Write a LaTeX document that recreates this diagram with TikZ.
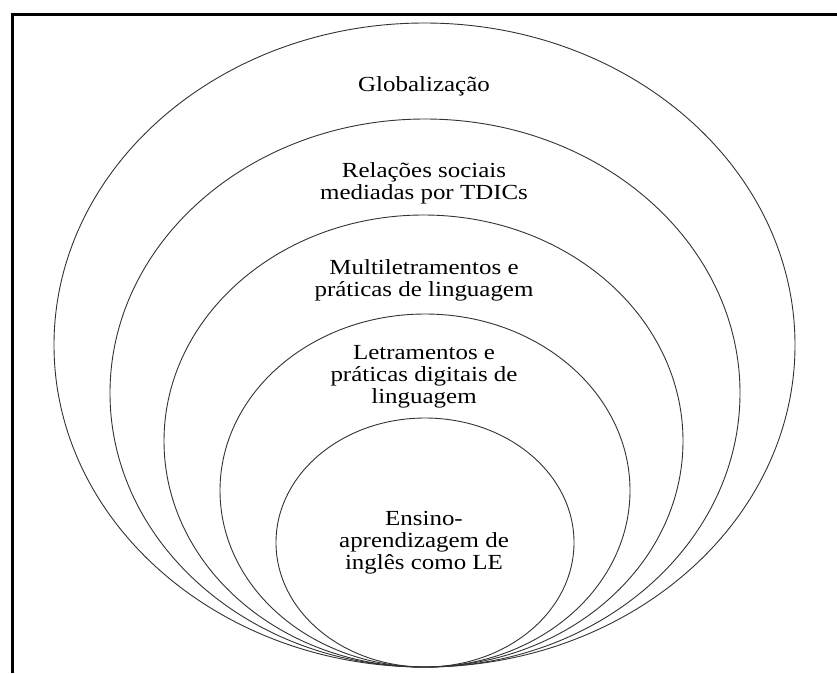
\documentclass[tikz,border=0pt]{standalone}
\usepackage{fontspec}
\setmainfont{Liberation Serif}
\usetikzlibrary{shapes.geometric}
\tikzset{
  ring/.style={ellipse, draw=black!80, line width=0.9pt, inner sep=0pt, outer sep=0pt},
  label/.style={align=center, inner sep=0pt, xscale=1.16, transform shape,
    font=\fontsize{21.5}{22}\selectfont},
  frameline/.style={line width=3pt, black}
}
\begin{document}
\begin{tikzpicture}[x=1pt, y=-1pt]
\useasboundingbox (0,0) rectangle (837,673);
\fill[white] (0,0) rectangle (837,673);
% frame
\coordinate (fbl) at (12,673);
\coordinate (ftl) at (12,14);
\coordinate (ftr) at (837,14);
\draw[frameline] (fbl) -- (ftl) -- (ftr);
% rings
\node[ring, minimum width=741pt, minimum height=644pt] (e1) at (424.5,345) {};
\node[ring, minimum width=630pt, minimum height=548pt] (e2) at (425,393) {};
\node[ring, minimum width=519pt, minimum height=452pt] (e3) at (423.5,441) {};
\node[ring, minimum width=410pt, minimum height=353pt] (e4) at (425,490.5) {};
\node[ring, minimum width=298pt, minimum height=249pt] (e5) at (425,542.5) {};
% labels
\node[label] (t1) at (424,86) {Globalização};
\node[label] (t2) at (424,183) {Relações sociais\\mediadas por TDICs};
\node[label] (t3) at (424,280) {Multiletramentos e\\práticas de linguagem};
\node[label] (t4) at (424,377) {Letramentos e\\práticas digitais de\\linguagem};
\node[label] (t5) at (424,543) {Ensino-\\aprendizagem de\\inglês como LE};
\end{tikzpicture}
\end{document}
